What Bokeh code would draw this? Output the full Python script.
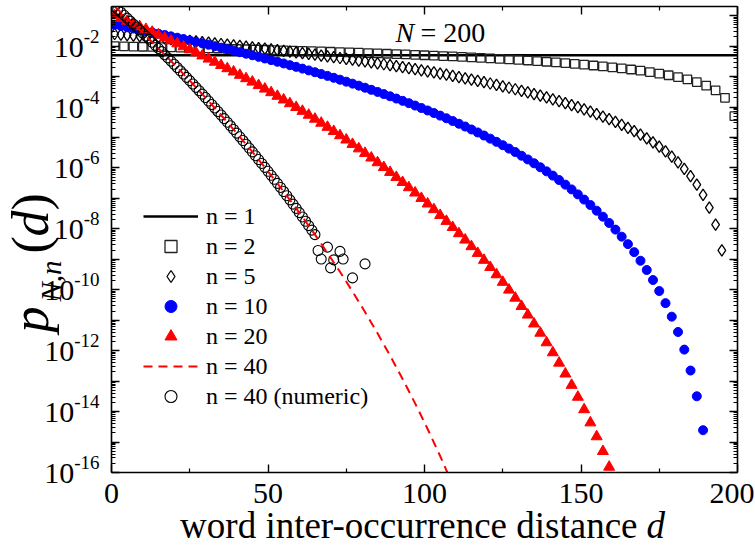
import math
from bokeh.plotting import figure
from bokeh.layouts import row, column
from bokeh.models import (Range1d, FixedTicker, LinearAxis, LogAxis, Label, Legend,
                          LegendItem, CustomJSTickFormatter)
from bokeh.embed import file_html
from bokeh.resources import INLINE

# ---------------- data (N = 200) ----------------
n1_d = [0, 200]
n1_p = [5.0e-3, 5.0e-3]

n2_d = [1, 4, 7, 10, 13, 16, 19, 22, 25, 28, 31, 34, 37, 40, 43, 46, 49, 52, 55, 58,
        61, 64, 67, 70, 73, 76, 79, 82, 85, 88, 91, 94, 97, 100, 103, 106, 109, 112, 115, 118,
        121, 124, 127, 130, 133, 136, 139, 142, 145, 148, 151, 154, 157, 160, 163, 166, 169, 172, 175, 178,
        181, 184, 187, 190, 193, 196, 199]
n2_p = [1.000e-2, 9.849e-3, 9.698e-3, 9.548e-3, 9.397e-3, 9.246e-3, 9.095e-3, 8.945e-3, 8.794e-3, 8.643e-3,
        8.492e-3, 8.342e-3, 8.191e-3, 8.040e-3, 7.889e-3, 7.739e-3, 7.588e-3, 7.437e-3, 7.286e-3, 7.136e-3,
        6.985e-3, 6.834e-3, 6.683e-3, 6.533e-3, 6.382e-3, 6.231e-3, 6.080e-3, 5.930e-3, 5.779e-3, 5.628e-3,
        5.477e-3, 5.327e-3, 5.176e-3, 5.025e-3, 4.874e-3, 4.724e-3, 4.573e-3, 4.422e-3, 4.271e-3, 4.121e-3,
        3.970e-3, 3.819e-3, 3.668e-3, 3.518e-3, 3.367e-3, 3.216e-3, 3.065e-3, 2.915e-3, 2.764e-3, 2.613e-3,
        2.462e-3, 2.312e-3, 2.161e-3, 2.010e-3, 1.859e-3, 1.709e-3, 1.558e-3, 1.407e-3, 1.256e-3, 1.106e-3,
        9.548e-4, 8.040e-4, 6.533e-4, 5.025e-4, 3.518e-4, 2.010e-4, 5.025e-5]

n5_d = [1, 3, 5, 7, 9, 11, 13, 15, 17, 19, 21, 23, 25, 27, 29, 31, 33, 35, 37, 39,
        41, 43, 45, 47, 49, 51, 53, 55, 57, 59, 61, 63, 65, 67, 69, 71, 73, 75, 77, 79,
        81, 83, 85, 87, 89, 91, 93, 95, 97, 99, 101, 103, 105, 107, 109, 111, 113, 115, 117, 119,
        121, 123, 125, 127, 129, 131, 133, 135, 137, 139, 141, 143, 145, 147, 149, 151, 153, 155, 157, 159,
        161, 163, 165, 167, 169, 171, 173, 175, 177, 179, 181, 183, 185, 187, 189, 191, 193, 195]
n5_p = [2.500e-2, 2.400e-2, 2.303e-2, 2.210e-2, 2.119e-2, 2.031e-2, 1.946e-2, 1.863e-2, 1.783e-2, 1.706e-2,
        1.631e-2, 1.559e-2, 1.489e-2, 1.421e-2, 1.356e-2, 1.293e-2, 1.233e-2, 1.174e-2, 1.118e-2, 1.063e-2,
        1.011e-2, 9.607e-3, 9.122e-3, 8.656e-3, 8.208e-3, 7.777e-3, 7.364e-3, 6.967e-3, 6.587e-3, 6.222e-3,
        5.873e-3, 5.539e-3, 5.219e-3, 4.913e-3, 4.621e-3, 4.342e-3, 4.076e-3, 3.822e-3, 3.581e-3, 3.351e-3,
        3.132e-3, 2.924e-3, 2.727e-3, 2.540e-3, 2.362e-3, 2.194e-3, 2.036e-3, 1.885e-3, 1.744e-3, 1.611e-3,
        1.485e-3, 1.367e-3, 1.256e-3, 1.152e-3, 1.054e-3, 9.632e-4, 8.781e-4, 7.988e-4, 7.249e-4, 6.564e-4,
        5.928e-4, 5.339e-4, 4.795e-4, 4.294e-4, 3.834e-4, 3.411e-4, 3.024e-4, 2.672e-4, 2.351e-4, 2.059e-4,
        1.796e-4, 1.559e-4, 1.346e-4, 1.156e-4, 9.865e-5, 8.365e-5, 7.042e-5, 5.883e-5, 4.874e-5, 4.000e-5,
        3.249e-5, 2.610e-5, 2.069e-5, 1.618e-5, 1.244e-5, 9.397e-6, 6.948e-6, 5.011e-6, 3.492e-6, 2.360e-6,
        1.529e-6, 9.386e-7, 5.383e-7, 2.820e-7, 1.301e-7, 4.969e-8, 1.380e-8, 1.972e-9]

n10_d = [1, 3, 5, 7, 9, 11, 13, 15, 17, 19, 21, 23, 25, 27, 29, 31, 33, 35, 37, 39,
         41, 43, 45, 47, 49, 51, 53, 55, 57, 59, 61, 63, 65, 67, 69, 71, 73, 75, 77, 79,
         81, 83, 85, 87, 89, 91, 93, 95, 97, 99, 101, 103, 105, 107, 109, 111, 113, 115, 117, 119,
         121, 123, 125, 127, 129, 131, 133, 135, 137, 139, 141, 143, 145, 147, 149, 151, 153, 155, 157, 159,
         161, 163, 165, 167, 169, 171, 173, 175, 177, 179, 181, 183, 185, 187, 189]
n10_p = [5.000e-2, 4.557e-2, 4.149e-2, 3.773e-2, 3.429e-2, 3.113e-2, 2.823e-2, 2.557e-2, 2.314e-2, 2.091e-2,
         1.888e-2, 1.702e-2, 1.533e-2, 1.379e-2, 1.239e-2, 1.111e-2, 9.959e-3, 8.911e-3, 7.963e-3, 7.105e-3,
         6.331e-3, 5.632e-3, 5.003e-3, 4.437e-3, 3.929e-3, 3.473e-3, 3.065e-3, 2.700e-3, 2.374e-3, 2.084e-3,
         1.825e-3, 1.596e-3, 1.392e-3, 1.212e-3, 1.053e-3, 9.128e-4, 7.894e-4, 6.810e-4, 5.861e-4, 5.032e-4,
         4.308e-4, 3.679e-4, 3.132e-4, 2.659e-4, 2.251e-4, 1.899e-4, 1.597e-4, 1.339e-4, 1.118e-4, 9.302e-5,
         7.710e-5, 6.366e-5, 5.234e-5, 4.284e-5, 3.491e-5, 2.831e-5, 2.285e-5, 1.834e-5, 1.464e-5, 1.162e-5,
         9.167e-6, 7.186e-6, 5.594e-6, 4.324e-6, 3.317e-6, 2.524e-6, 1.905e-6, 1.424e-6, 1.054e-6, 7.724e-7,
         5.597e-7, 4.007e-7, 2.832e-7, 1.974e-7, 1.355e-7, 9.151e-8, 6.069e-8, 3.947e-8, 2.512e-8, 1.561e-8,
         9.439e-9, 5.541e-9, 3.145e-9, 1.718e-9, 8.980e-10, 4.461e-10, 2.088e-10, 9.100e-11, 3.640e-11, 1.309e-11,
         4.115e-12, 1.083e-12, 2.229e-13, 3.185e-14, 2.450e-15]

n20_d = [1, 3, 5, 7, 9, 11, 13, 15, 17, 19, 21, 23, 25, 27, 29, 31, 33, 35, 37, 39,
         41, 43, 45, 47, 49, 51, 53, 55, 57, 59, 61, 63, 65, 67, 69, 71, 73, 75, 77, 79,
         81, 83, 85, 87, 89, 91, 93, 95, 97, 99, 101, 103, 105, 107, 109, 111, 113, 115, 117, 119,
         121, 123, 125, 127, 129, 131, 133, 135, 137, 139, 141, 143, 145, 147, 149, 151, 153, 155, 157, 159]
n20_p = [1.000e-1, 8.177e-2, 6.672e-2, 5.432e-2, 4.413e-2, 3.577e-2, 2.892e-2, 2.333e-2, 1.877e-2, 1.506e-2,
         1.206e-2, 9.629e-3, 7.668e-3, 6.089e-3, 4.821e-3, 3.807e-3, 2.997e-3, 2.352e-3, 1.840e-3, 1.435e-3,
         1.115e-3, 8.638e-4, 6.668e-4, 5.129e-4, 3.930e-4, 3.001e-4, 2.282e-4, 1.728e-4, 1.304e-4, 9.793e-5,
         7.323e-5, 5.452e-5, 4.040e-5, 2.979e-5, 2.186e-5, 1.596e-5, 1.159e-5, 8.367e-6, 6.008e-6, 4.289e-6,
         3.043e-6, 2.146e-6, 1.503e-6, 1.045e-6, 7.221e-7, 4.951e-7, 3.369e-7, 2.274e-7, 1.522e-7, 1.010e-7,
         6.643e-8, 4.328e-8, 2.791e-8, 1.782e-8, 1.125e-8, 7.021e-9, 4.330e-9, 2.637e-9, 1.584e-9, 9.385e-10,
         5.477e-10, 3.147e-10, 1.778e-10, 9.865e-11, 5.372e-11, 2.866e-11, 1.497e-11, 7.636e-12, 3.800e-12, 1.840e-12,
         8.659e-13, 3.947e-13, 1.739e-13, 7.377e-14, 3.003e-14, 1.168e-14, 4.322e-15, 1.511e-15, 4.961e-16, 1.516e-16]

n40_d = [1, 5, 9, 13, 17, 21, 25, 29, 33, 37, 41, 45, 49, 53, 57, 61, 65, 69, 73, 77,
         81, 85, 89, 93, 97, 101, 105, 109]
n40_p = [2.000e-1, 8.295e-2, 3.372e-2, 1.341e-2, 5.218e-3, 1.983e-3, 7.349e-4, 2.654e-4, 9.324e-5, 3.183e-5,
         1.053e-5, 3.375e-6, 1.045e-6, 3.118e-7, 8.947e-8, 2.464e-8, 6.487e-9, 1.628e-9, 3.884e-10, 8.764e-11,
         1.863e-11, 3.710e-12, 6.885e-13, 1.183e-13, 1.866e-14, 2.682e-15, 3.474e-16, 4.008e-17]

n40num_d = [1, 2, 3, 4, 5, 6, 7, 8, 9, 10, 11, 12, 13, 14, 15, 16, 17, 18, 19, 20,
            21, 22, 23, 24, 25, 26, 27, 28, 29, 30, 31, 32, 33, 34, 35, 36, 37, 38, 39, 40,
            41, 42, 43, 44, 45, 46, 47, 48, 49, 50, 51, 52, 53, 54, 55, 56, 57, 58, 59, 60,
            61, 62, 63, 64, 65, 66, 67, 69, 70, 71, 73, 74, 77, 81]
n40num_p = [2.000e-1, 1.608e-1, 1.291e-1, 1.036e-1, 8.295e-2, 6.637e-2, 5.303e-2, 4.231e-2, 3.372e-2, 2.683e-2,
            2.132e-2, 1.692e-2, 1.341e-2, 1.062e-2, 8.389e-3, 6.621e-3, 5.218e-3, 4.106e-3, 3.226e-3, 2.531e-3,
            1.983e-3, 1.551e-3, 1.211e-3, 9.440e-4, 7.349e-4, 5.710e-4, 4.431e-4, 3.432e-4, 2.654e-4, 2.049e-4,
            1.579e-4, 1.214e-4, 9.324e-5, 7.147e-5, 5.468e-5, 4.175e-5, 3.183e-5, 2.421e-5, 1.838e-5, 1.393e-5,
            1.053e-5, 7.950e-6, 5.987e-6, 4.500e-6, 3.375e-6, 2.526e-6, 1.886e-6, 1.406e-6, 1.045e-6, 7.750e-7,
            5.734e-7, 4.234e-7, 3.118e-7, 2.291e-7, 1.679e-7, 1.227e-7, 8.947e-8, 6.508e-8, 4.721e-8, 3.415e-8,
            2.464e-8, 1.773e-8, 1.272e-8, 9.096e-9, 6.487e-9, 1.95e-9, 1.02e-9, 2.51e-9, 5.25e-10, 9.55e-10,
            1.82e-9, 1.02e-9, 2.45e-10, 7.08e-10]

x_ticks = [0, 50, 100, 150, 200]
x_minor = [25, 75, 125, 175]
y_label_exps = [-2, -4, -6, -8, -10, -12, -14, -16]
legend_labels = ["n = 1", "n = 2", "n = 5", "n = 10", "n = 20", "n = 40", "n = 40 (numeric)"]

# ---------------- layout / style ----------------
W, H = 755, 546
FL, FR, FT, FB = 111, 737, 6, 472   # frame edges in page pixels
LW = 100                            # left text strip width (tick labels + y title)
MW = W - LW                         # main figure width
MH = FB + 2                         # main figure height
BH = H - MH                         # bottom text strip height (tick labels + x title)
X0, X1 = 0, 200
Y0, Y1 = 1e-16, 0.2
SERIF = "Liberation Serif"

def y_to_sy(y):
    l1, l0 = math.log10(Y1), math.log10(Y0)
    return FT + (l1 - math.log10(y)) / (l1 - l0) * (FB - FT)

def x_to_sx(x):
    return FL + (x - X0) / (X1 - X0) * (FR - FL)

def no_align(f):
    try:
        f.frame_align = False
    except Exception:
        pass

main = figure(width=MW, height=MH, x_range=Range1d(X0, X1), y_range=Range1d(Y0, Y1),
              y_axis_type="log", output_backend="svg", toolbar_location=None,
              min_border_left=FL - LW, min_border_right=W - FR, min_border_top=FT,
              min_border_bottom=MH - FB)
no_align(main)
main.outline_line_color = None
main.xgrid.visible = False
main.ygrid.visible = False
main.background_fill_color = "white"
main.border_fill_color = "white"

xt = FixedTicker(ticks=x_ticks, minor_ticks=x_minor)
yt = FixedTicker(ticks=[10.0 ** e for e in range(-16, 0)],
                 minor_ticks=[k * 10.0 ** e for e in range(-17, 0) for k in range(2, 10)])

def style_axis(ax):
    ax.axis_line_width = 1.6
    ax.axis_line_color = "black"
    ax.major_tick_in = 8
    ax.major_tick_out = 0
    ax.minor_tick_in = 4
    ax.minor_tick_out = 0
    ax.major_tick_line_width = 1.4
    ax.minor_tick_line_width = 1.2
    ax.major_tick_line_color = "black"
    ax.minor_tick_line_color = "black"
    ax.formatter = CustomJSTickFormatter(code="return ''")
    ax.major_label_standoff = 0
    ax.major_label_text_font_size = "0px"

xa = main.xaxis[0]
xa.ticker = xt
style_axis(xa)
ya = main.yaxis[0]
ya.ticker = yt
style_axis(ya)
top = LinearAxis(ticker=xt)
style_axis(top)
main.add_layout(top, "above")
right = LogAxis(ticker=yt)
style_axis(right)
main.add_layout(right, "right")

# ---------------- series ----------------
r1 = main.line(n1_d, n1_p, line_color="black", line_width=2.4)
r2 = main.scatter(n2_d, n2_p, marker="square", size=8.5, fill_color=None,
                  line_color="#222222", line_width=1.3)
r5 = main.scatter(n5_d, n5_p, marker="diamond", size=11.5, fill_color=None,
                  line_color="black", line_width=1.3)
r10 = main.scatter(n10_d, n10_p, marker="circle", size=9, fill_color="#0000ff", line_color="#0000ff")
r20 = main.scatter(n20_d, n20_p, marker="triangle", size=11, fill_color="#ff0000", line_color="#ff0000")
r40n = main.scatter(n40num_d, n40num_p, marker="circle", size=10, fill_color=None,
                    line_color="black", line_width=1.1)
r40 = main.line(n40_d, n40_p, line_color="#ff0000", line_width=2, line_dash="9 6")

renderers = [r1, r2, r5, r10, r20, r40, r40n]
legend = Legend(items=[LegendItem(label=t, renderers=[r]) for t, r in zip(legend_labels, renderers)],
                location=(32, 61), padding=0, margin=0, spacing=0,
                border_line_color=None, background_fill_alpha=0,
                label_text_font=SERIF, label_text_font_size="24px", label_text_color="black",
                glyph_width=55, glyph_height=30, label_height=30, label_standoff=8)
main.add_layout(legend)

def frame_label(sx, sy, text, size, style="normal"):
    main.add_layout(Label(x=sx - FL, y=FB - sy, text=text, x_units="screen", y_units="screen",
                          text_font=SERIF, text_font_size=f"{size}px", text_font_style=style,
                          text_align="left", text_baseline="middle", text_color="black"))

frame_label(395, 32, "N", 28, style="italic")
frame_label(420, 32, "= 200", 28)

# ---------------- text strips (their data units are page pixels) ----------------
def text_strip(width, height):
    f = figure(width=width, height=height, x_range=Range1d(0, width), y_range=Range1d(height, 0),
               x_axis_location=None, y_axis_location=None, output_backend="svg",
               toolbar_location=None, min_border=0, min_border_left=0, min_border_right=0,
               min_border_top=0, min_border_bottom=0)
    no_align(f)
    f.outline_line_color = None
    f.xgrid.visible = False
    f.ygrid.visible = False
    f.background_fill_color = "white"
    f.border_fill_color = "white"
    return f

def strip_label(f, ox, oy, sx, sy, text, size, style="normal", align="left", angle=0.0):
    f.add_layout(Label(x=sx - ox, y=sy - oy, text=text, x_units="data", y_units="data",
                       text_font=SERIF, text_font_size=f"{size}px", text_font_style=style,
                       text_align=align, text_baseline="middle", text_color="black", angle=angle))

# left strip: y tick labels 10^e and y title p_{N,n}(d)
left = text_strip(LW, H)
for e in y_label_exps:
    ty = y_to_sy(10.0 ** e)
    exp_txt = str(e)
    w_exp = (0.333 + 0.5 * (len(exp_txt) - 1)) * 19
    strip_label(left, 0, 0, 99 - w_exp, ty + 1, "10", 30, align="right")
    strip_label(left, 0, 0, 99, ty - 10, exp_txt, 19, align="right")

rot = math.pi / 2
strip_label(left, 0, 0, 30, 332, "p", 52, style="italic", angle=rot)
strip_label(left, 0, 0, 50, 301, "N,n", 29, style="italic", angle=rot)
strip_label(left, 0, 0, 30, 253, "(", 52, angle=rot)
strip_label(left, 0, 0, 30, 236, "d", 52, style="italic", angle=rot)
strip_label(left, 0, 0, 30, 210, ")", 52, angle=rot)

# bottom strip: x tick labels and x title
bottom = text_strip(MW, BH)
for t in x_ticks:
    cx = x_to_sx(t)
    half = 0.25 * len(str(t)) * 30
    if cx + half > W - 1:
        strip_label(bottom, LW, MH, W - 1, 492.5, str(t), 30, align="right")
    else:
        strip_label(bottom, LW, MH, cx, 492.5, str(t), 30, align="center")
strip_label(bottom, LW, MH, 637, 525, "word inter-occurrence distance", 37, align="right")
strip_label(bottom, LW, MH, 646, 525, "d", 37, style="italic")

layout = row(left, column(main, bottom))
open("out.html", "w").write(file_html(layout, INLINE))
